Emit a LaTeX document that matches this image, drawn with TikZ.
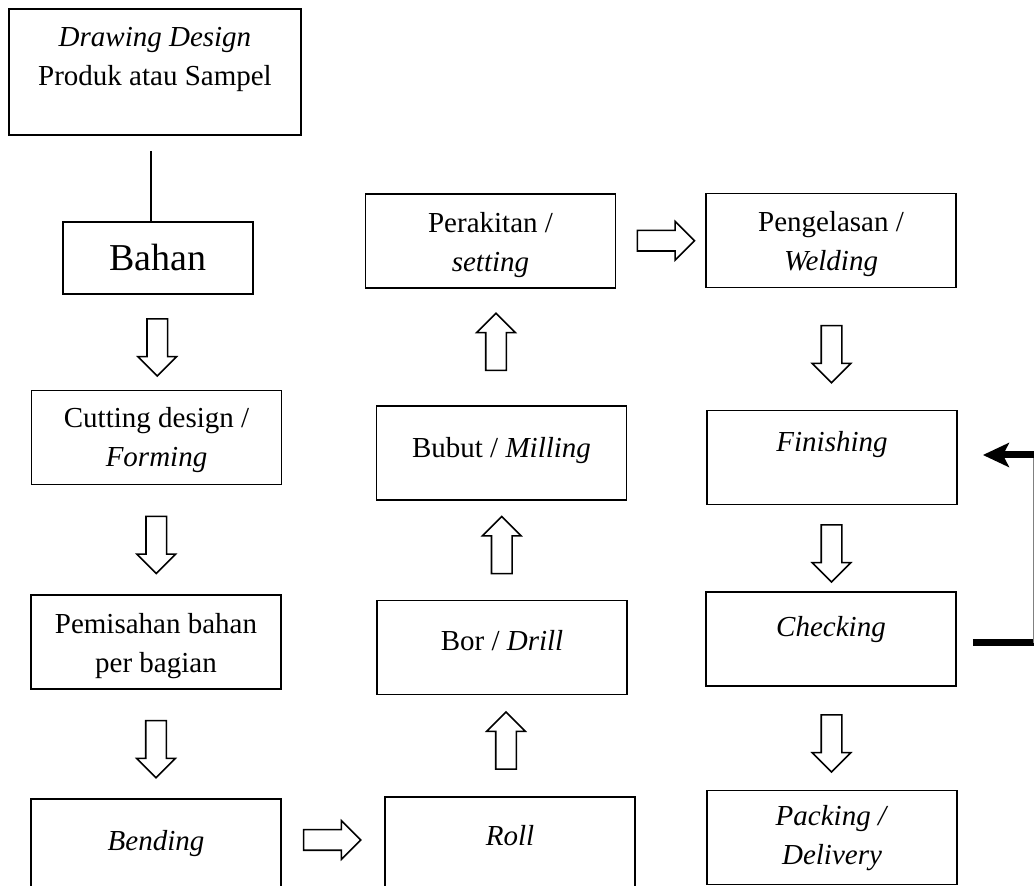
\documentclass[tikz,border=0pt]{standalone}
\usepackage{fontspec}
\setmainfont{Liberation Serif}
\usetikzlibrary{shapes.arrows,arrows.meta,calc}

\begin{document}
\begin{tikzpicture}[x=0.5pt, y=-0.5pt, font=\fontsize{14.5}{19.5}\selectfont,
  box/.style={draw, line width=0.9pt, minimum width=125pt, minimum height=47pt, inner sep=0pt},
  lab/.style={anchor=north, inner sep=0pt, align=center, yshift={9.15pt-#1*0.5pt}, execute at begin node=\strut},
  harrow/.style={single arrow, draw, line width=0.8pt, minimum height=28.5pt, minimum width=18.5pt, single arrow head extend=4.5pt, inner sep=4.75pt},
  fb/.style={line width=3.5pt}]
\useasboundingbox (0,0) rectangle (1034,886);
% left column
\node[box, minimum width=146pt, minimum height=63pt, label={[lab=37]north:{\textit{Drawing Design}\\Produk atau Sampel}}] (dd) at (155,72) {};
\node[box, minimum width=95pt, minimum height=36pt, font=\fontsize{19}{23}\selectfont] (bahan) at (158,258) {Bahan};
\node[box, label={[lab=36]north:{Cutting design /\\\textit{Forming}}}] (cut) at (156.5,437.5) {};
\node[box, label={[lab=37]north:{Pemisahan bahan\\per bagian}}] (pisah) at (156,642) {};
\node[box, label={[lab=43]north:{\textit{Bending}}}] (bend) at (156,846) {};
% middle column
\node[box, label={[lab=40]north:{\textit{Roll}}}] (roll) at (510,844) {};
\node[box, label={[lab=42]north:{Bor / \textit{Drill}}}] (bor) at (502,647.5) {};
\node[box, label={[lab=43]north:{Bubut / \textit{Milling}}}] (bubut) at (501.5,453) {};
\node[box, label={[lab=37]north:{Perakitan /\\\textit{setting}}}] (rakit) at (490.5,241) {};
% right column
\node[box, label={[lab=37]north:{Pengelasan /\\\textit{Welding}}}] (las) at (831,240.5) {};
\node[box, label={[lab=33]north:{\textit{Finishing}}}] (fin) at (832,457.5) {};
\node[box, label={[lab=36]north:{\textit{Checking}}}] (cek) at (831,639) {};
\node[box, label={[lab=34]north:{\textit{Packing /}\\\textit{Delivery}}}] (pack) at (832,837.5) {};
% hollow arrows
\node[harrow, shape border rotate=270] (a1) at ($(bahan.south)!0.5!(cut.north)$) {};
\node[harrow, shape border rotate=270] (a2) at ($(cut.south)!0.5!(pisah.north)$) {};
\node[harrow, shape border rotate=270] (a3) at ($(pisah.south)!0.5!(bend.north)$) {};
\node[harrow, xshift=-3pt, yshift=2.5pt] (a4) at ($(bend.east)!0.5!(roll.west)$) {};
\node[harrow, shape border rotate=90] (a5) at ($(roll.north)!0.5!(bor.south)$) {};
\node[harrow, shape border rotate=90] (a6) at ($(bor.north)!0.5!(bubut.south)$) {};
\node[harrow, shape border rotate=90] (a7) at ($(bubut.north)!0.5!(rakit.south)$) {};
\node[harrow] (a8) at ($(rakit.east)!0.5!(las.west)$) {};
\node[harrow, shape border rotate=270] (a9) at ($(las.south)!0.5!(fin.north)$) {};
\node[harrow, shape border rotate=270] (a10) at ($(fin.south)!0.5!(cek.north)$) {};
\node[harrow, shape border rotate=270] (a11) at ($(cek.south)!0.5!(pack.north)$) {};
% connectors
\draw[line width=0.8pt] ([xshift=-2pt,yshift=-7.5pt]dd.south) -- ([xshift=-2pt]dd.south |- bahan.north);
\draw[fb] ([xshift=8pt,yshift=-2pt]cek.east) -- ++(30.5pt,0) coordinate (fbr);
\draw[line width=0.5pt, gray] (fbr) -- (fbr |- fin.east) coordinate (fbt);
\draw[fb, -{Stealth[length=13pt, width=12pt, inset=3pt]}] ([yshift=1.25pt]fbt) -- ([xshift=12.5pt,yshift=1.25pt]fin.east);
\end{tikzpicture}
\end{document}
